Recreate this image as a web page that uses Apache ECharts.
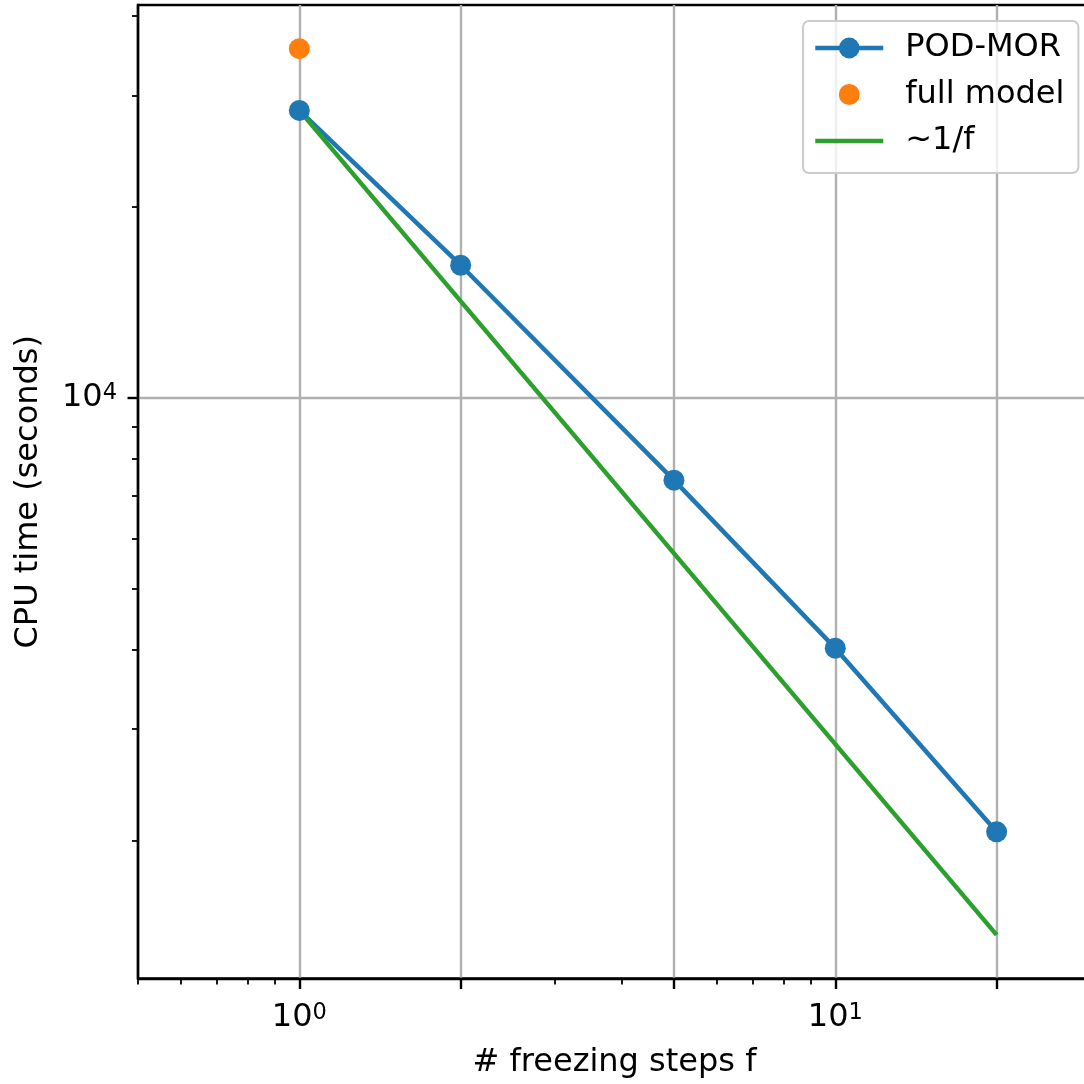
<!DOCTYPE html>
<html><head><meta charset="utf-8">
<script src="https://cdn.jsdelivr.net/npm/echarts@6/dist/echarts.min.js"></script>
<style>html,body{margin:0;padding:0;background:#fff}#c{width:1084px;height:1084px}</style>
</head><body><div id="c"></div>
<script>
// ---- data ----
const freezingSteps = [1, 2, 5, 10, 20];
const podMorTime = [28400, 16180, 7410, 4025, 2065];
const fullModelSteps = [1];
const fullModelTime = [35540];
const refSteps = [1, 20];
const refTime = [28400, 1420];
// ---- ticks ----
const xMajorTicks = [1, 2, 5, 10, 20];
const xMinorTicks = [0.5, 0.6, 0.7, 0.8, 0.9, 3, 4, 6, 7, 8, 9];
const xLabelTicks = [1, 10];
const yMajorTicks = [10000];
const yMinorTicks = [2000, 3000, 4000, 5000, 6000, 7000, 8000, 9000, 20000, 30000, 40000];
const yLabelTicks = [10000];
const xLimits = [0.5, 30];
const yLimits = [1212, 41650];

const FONT = 'DejaVu Sans';
const FS = 32;
const pow10 = v => '{b|10}{s|' + Math.round(Math.log10(v)) + '}';
const rich = {
  b: { fontSize: FS, lineHeight: 32, fontFamily: FONT, color: '#000' },
  s: { fontSize: 22.5, lineHeight: 18, verticalAlign: 'top', fontFamily: FONT, color: '#000' }
};
const zip = (a, b) => a.map((v, i) => [v, b[i]]);

const grid = { left: 138, top: 5, width: 953, height: 973.5, containLabel: false, outerBoundsMode: 'none',
  show: true, borderColor: '#000', borderWidth: 2.4, backgroundColor: 'transparent' };

const chart = echarts.init(document.getElementById('c'), null, { renderer: 'canvas' });
chart.setOption({
  backgroundColor: '#fff',
  animation: false,
  textStyle: { fontFamily: FONT },
  grid: grid,
  legend: {
    orient: 'vertical', left: 803, top: 21,
    padding: [10, 14, 15, 10],
    itemWidth: 68, itemHeight: 26, itemGap: 12.5,
    backgroundColor: 'rgba(255,255,255,0.8)', borderColor: '#cccccc', borderWidth: 2, borderRadius: 6,
    textStyle: { fontSize: FS, lineHeight: 34, fontFamily: FONT, color: '#000', padding: [0, 0, 0, 17] },
    data: [
      { name: 'POD-MOR', lineStyle: { width: 4.5 } },
      { name: 'full model', icon: 'path://M0,0L0,0ZM13,2.5A10.5,10.5,0,1,1,13,23.5A10.5,10.5,0,1,1,13,2.5ZM26,26L26,26Z' },
      { name: '~1/f', icon: 'path://M0,0L68,0L68,4.5L0,4.5Z' }
    ]
  },
  xAxis: [{
    type: 'log', logBase: 10, min: xLimits[0], max: xLimits[1],
    name: '# freezing steps f', nameLocation: 'middle', nameGap: 68,
    nameTextStyle: { fontSize: FS, fontFamily: FONT, color: '#000' },
    axisLine: { show: true, lineStyle: { color: '#000', width: 2.4 } },
    axisTick: { show: true, customValues: xMajorTicks, length: 10.5, lineStyle: { color: '#000', width: 2.4 } },
    axisLabel: { show: true, customValues: xLabelTicks, margin: 23, formatter: pow10, rich: rich },
    splitLine: { show: true, lineStyle: { color: '#b0b0b0', width: 2.4 } },
    minorTick: { show: false }, minorSplitLine: { show: false }
  }, {
    type: 'log', logBase: 10, min: xLimits[0], max: xLimits[1], position: 'bottom',
    axisLine: { show: false },
    axisTick: { show: true, customValues: xMinorTicks, length: 6, lineStyle: { color: '#000', width: 1.8 } },
    axisLabel: { show: false }, splitLine: { show: false }
  }],
  yAxis: [{
    type: 'log', logBase: 10, min: yLimits[0], max: yLimits[1],
    name: 'CPU time (seconds)', nameLocation: 'middle', nameGap: 93,
    nameTextStyle: { fontSize: FS, fontFamily: FONT, color: '#000' },
    axisLine: { show: true, lineStyle: { color: '#000', width: 2.4 } },
    axisTick: { show: true, customValues: yMajorTicks, length: 10.5, lineStyle: { color: '#000', width: 2.4 } },
    axisLabel: { show: true, customValues: yLabelTicks, margin: 21, formatter: pow10, rich: rich },
    splitLine: { show: true, lineStyle: { color: '#b0b0b0', width: 2.4 } },
    minorTick: { show: false }, minorSplitLine: { show: false }
  }, {
    type: 'log', logBase: 10, min: yLimits[0], max: yLimits[1], position: 'left',
    axisLine: { show: false },
    axisTick: { show: true, customValues: yMinorTicks, length: 6, lineStyle: { color: '#000', width: 1.8 } },
    axisLabel: { show: false }, splitLine: { show: false }
  }],
  series: [{
    name: 'POD-MOR', type: 'line', xAxisIndex: 0, yAxisIndex: 0,
    data: zip(freezingSteps, podMorTime),
    symbol: 'circle', symbolSize: 21, showSymbol: true,
    lineStyle: { color: '#1f77b4', width: 4.5 },
    itemStyle: { color: '#1f77b4' }
  }, {
    name: 'full model', type: 'scatter', xAxisIndex: 0, yAxisIndex: 0,
    data: zip(fullModelSteps, fullModelTime),
    symbol: 'circle', symbolSize: 21,
    itemStyle: { color: '#ff7f0e', opacity: 1 }
  }, {
    name: '~1/f', type: 'line', xAxisIndex: 0, yAxisIndex: 0,
    data: zip(refSteps, refTime),
    symbol: 'none', showSymbol: false,
    lineStyle: { color: '#2ca02c', width: 4.5 },
    itemStyle: { color: '#2ca02c' }
  }]
});
</script></body></html>
